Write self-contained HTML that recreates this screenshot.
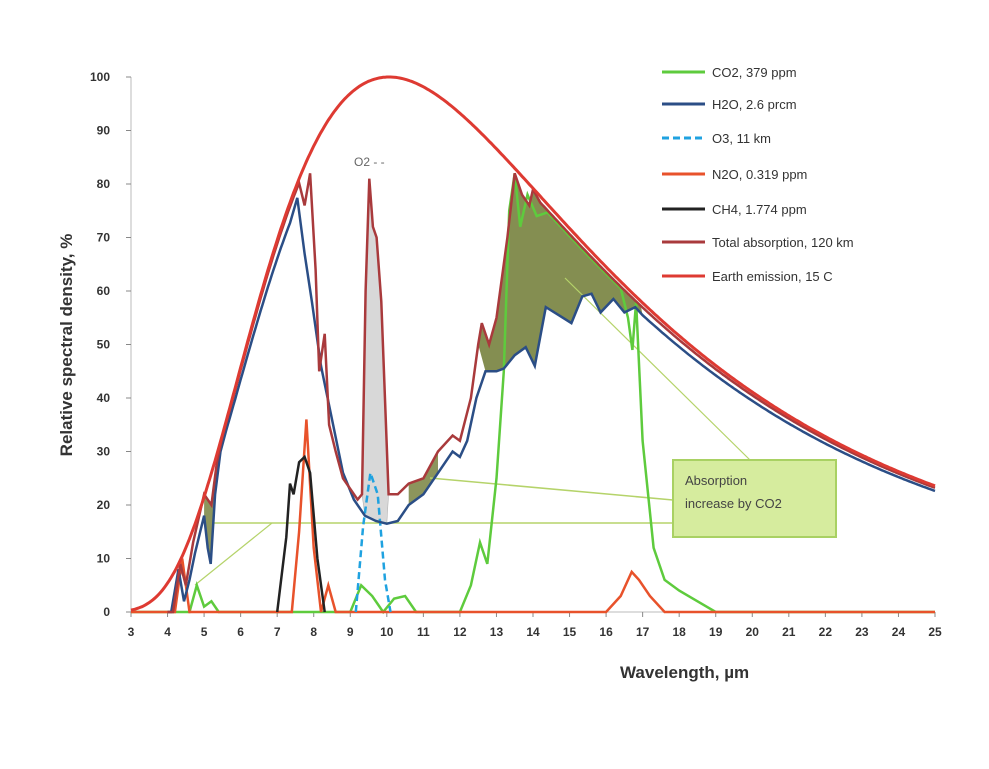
<!DOCTYPE html>
<html><head><meta charset="utf-8"><style>
body{margin:0;background:#fff;}
svg text{font-family:"Liberation Sans",Arial,sans-serif;}
</style></head><body>
<svg id="s" width="989" height="764" viewBox="0 0 989 764" xmlns="http://www.w3.org/2000/svg">
<rect width="989" height="764" fill="#fff"/>
<g id="axes" stroke="#bbb" stroke-width="1">
<line x1="131" y1="77" x2="131" y2="612"/>
<line x1="131" y1="612" x2="935" y2="612"/>
</g>
<g id="ticks"></g>
<g id="plot"></g>
<text x="620" y="678" font-size="17" font-weight="bold" fill="#333">Wavelength, µm</text>
<text transform="translate(72,345) rotate(-90)" font-size="17" font-weight="bold" fill="#333" text-anchor="middle">Relative spectral density, %</text>
<text x="354" y="166" font-size="12" fill="#666" font-family="Liberation Sans">O2 - -</text>
<g id="legend" font-size="13" fill="#333"></g>
<rect x="673" y="460" width="163" height="77" fill="#d6ec9e" stroke="#a9d163" stroke-width="2"/>
<text x="685" y="485" font-size="13" fill="#444">Absorption</text>
<text x="685" y="508" font-size="13" fill="#444">increase by CO2</text>
</svg>
<script>
var NS="http://www.w3.org/2000/svg";
function X(w){return 131+(w-3)*804/22;}
function Y(v){return 612-v*5.35;}
function P(w){var f=function(l){return Math.pow(l,-5)/(Math.exp(14388/(l*288))-1);};return 100*f(w)/f(10.05);}
function el(t,a,p){var e=document.createElementNS(NS,t);for(var k in a)e.setAttribute(k,a[k]);(p||document.getElementById('plot')).appendChild(e);return e;}
function pathOf(arr){return arr.map(function(p,i){return (i?'L':'M')+X(p[0]).toFixed(1)+','+Y(p[1]).toFixed(1);}).join(' ');}
function planckPts(a,b,k,off){var r=[];for(var w=a;w<=b+1e-9;w+=0.05)r.push([w,P(w)*k-(off||0)]);return r;}
// ticks
var tg=document.getElementById('ticks');
for(var v=0;v<=100;v+=10){el('line',{x1:126,x2:131,y1:Y(v),y2:Y(v),stroke:'#888'},tg);var t=el('text',{x:110,y:Y(v)+4,'font-size':12,'font-weight':'bold','text-anchor':'end',fill:'#333'},tg);t.textContent=v;}
for(var w=3;w<=25;w++){el('line',{x1:X(w),x2:X(w),y1:612,y2:617,stroke:'#888'},tg);var t=el('text',{x:X(w),y:636,'font-size':12,'font-weight':'bold','text-anchor':'middle',fill:'#333'},tg);t.textContent=w;}
// data
var blue=[[4.0,0],[4.1,0],[4.3,8],[4.45,2],[4.6,6],[4.75,11],[5.0,18],[5.1,12],[5.18,9],[5.3,22],[5.45,30]].concat(planckPts(5.6,7.35,0.95)).concat([[7.55,77.4],[7.75,67],[7.95,58],[8.2,46],[8.5,36],[8.8,26],[9.1,21],[9.4,18],[9.7,17],[10.0,16.5],[10.3,17],[10.6,20],[11.0,22],[11.4,26],[11.8,30],[12.0,29],[12.2,32],[12.45,40],[12.7,45],[13.0,45],[13.2,45.5],[13.5,48],[13.8,49.5],[14.05,46],[14.35,57],[14.7,55.5],[15.05,54],[15.35,59],[15.6,59.5],[15.85,56],[16.2,58.5],[16.5,56],[16.8,57]]).concat(planckPts(17.0,25,0.96));
var total=[[4.0,0],[4.15,0],[4.35,9],[4.5,5],[4.7,13],[5.0,22],[5.2,20],[5.35,28]].concat(planckPts(5.5,7.6,0.99)).concat([[7.75,76],[7.9,82],[8.05,64],[8.15,45],[8.3,52],[8.42,35],[8.6,30],[8.8,25],[9.0,23],[9.2,21],[9.32,22],[9.42,60],[9.52,81],[9.62,72],[9.72,70],[9.85,58],[10.05,22],[10.3,22],[10.6,24],[11.0,25],[11.4,30],[11.8,33],[12.0,32],[12.3,40],[12.5,50],[12.6,54],[12.8,50],[13.0,55],[13.3,70],[13.5,82],[13.7,78],[13.9,76],[14.0,79]]).concat(planckPts(14.2,25,0.985));
var co2=[[3,0],[4.6,0],[4.8,5],[5.0,1],[5.2,2],[5.4,0],[9.0,0],[9.3,5],[9.6,3],[9.9,0],[10.2,2.5],[10.5,3],[10.8,0],[12.0,0],[12.3,5],[12.55,13],[12.75,9],[13.0,25],[13.2,45],[13.35,75],[13.5,82],[13.65,72],[13.85,78],[14.1,74]].concat(planckPts(14.4,16.4,0.98)).concat([[16.6,55],[16.72,49],[16.82,58],[17.0,32],[17.3,12],[17.6,6],[18.0,4],[18.5,2],[19,0],[25,0]]);
var n2o=[[3,0],[4.2,0],[4.4,10],[4.6,0],[7.4,0],[7.6,15],[7.8,36],[8.0,12],[8.2,0],[8.4,5],[8.6,0],[16.0,0],[16.4,3],[16.7,7.5],[16.9,6],[17.2,3],[17.6,0],[25,0]];
var ch4=[[7.0,0],[7.25,14],[7.35,24],[7.45,22],[7.6,28],[7.75,29],[7.9,26],[8.1,10],[8.3,0]];
var o3=[[9.15,0],[9.35,16],[9.55,26],[9.75,22],[9.95,6],[10.1,0]];
// fills
var seg=function(a,lo,hi){return a.filter(function(p){return p[0]>=lo&&p[0]<=hi;});};
var f1=seg(total,12.5,17.0).concat(seg(blue,12.5,17.0).reverse());
el('path',{d:pathOf(f1)+'Z',fill:'#6f7a33',opacity:0.85});
var f2=seg(total,9.32,10.05).concat(seg(blue,9.3,10.05).reverse());
el('path',{d:pathOf(f2)+'Z',fill:'#d8d8d8',stroke:'#aaa','stroke-width':0.5});
var f3=seg(total,10.6,11.5).concat(seg(blue,10.6,11.5).reverse());
el('path',{d:pathOf(f3)+'Z',fill:'#6f7a33',opacity:0.8});
var f4=seg(total,5.0,5.35).concat(seg(blue,5.0,5.45).reverse());
el('path',{d:pathOf(f4)+'Z',fill:'#6f7a33',opacity:0.8});
// annotation lines
var g='#b5d36a';
el('line',{x1:213,y1:523,x2:673,y2:523,stroke:g,'stroke-width':1.5});
el('line',{x1:195,y1:585,x2:272,y2:523,stroke:g,'stroke-width':1.2});
el('line',{x1:430,y1:478,x2:673,y2:500,stroke:g,'stroke-width':1.5});
el('line',{x1:565,y1:278,x2:750,y2:460,stroke:g,'stroke-width':1.2});
// lines
el('path',{d:pathOf(co2),fill:'none',stroke:'#5ecb3d','stroke-width':2.5});
el('path',{d:pathOf(n2o),fill:'none',stroke:'#e8522b','stroke-width':2.5});
el('path',{d:pathOf(ch4),fill:'none',stroke:'#222','stroke-width':2.5});
el('path',{d:pathOf(o3),fill:'none',stroke:'#1fa2e0','stroke-width':2.5,'stroke-dasharray':'7,4'});
el('path',{d:pathOf(blue),fill:'none',stroke:'#2b4e86','stroke-width':2.5});
el('path',{d:pathOf(total),fill:'none',stroke:'#a93a3c','stroke-width':2.5});
el('path',{d:pathOf(planckPts(3,25,1)),fill:'none',stroke:'#de3a32','stroke-width':3});
// legend
var lg=document.getElementById('legend');
var L=[['CO2, 379 ppm','#5ecb3d',0],['H2O, 2.6 prcm','#2b4e86',0],['O3, 11 km','#1fa2e0',1],['N2O, 0.319 ppm','#e8522b',0],['CH4, 1.774 ppm','#222',0],['Total absorption, 120 km','#a93a3c',0],['Earth emission, 15 C','#de3a32',0]];
var ys=[72,104,138,174,209,242,276];
L.forEach(function(l,i){var a={x1:662,x2:705,y1:ys[i],y2:ys[i],stroke:l[1],'stroke-width':3};if(l[2])a['stroke-dasharray']='7,4';el('line',a,lg);var t=el('text',{x:712,y:ys[i]+5},lg);t.textContent=l[0];});
</script>
</body></html>
